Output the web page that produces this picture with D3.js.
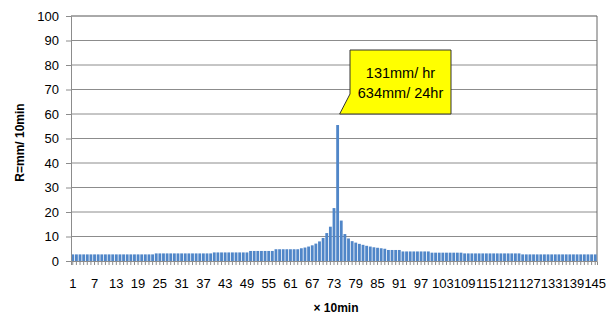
<!DOCTYPE html>
<html>
<head>
<meta charset="utf-8">
<script src="https://cdn.jsdelivr.net/npm/d3@7"></script>
<style>
  body { margin: 0; background: #fff; }
  svg { font-family: "Liberation Sans", Arial, sans-serif; }
</style>
</head>
<body>
<svg width="608" height="318"></svg>
<script>
// x categories: 10-minute steps 1..145
var steps = d3.range(1, 146);

// rainfall per 10 min (mm)
var rain = [
  2.7,2.7,2.7,2.7,2.7,2.7,2.7,2.7,2.7,2.7,2.7,2.7,2.7,2.7,2.7,2.7,2.7,2.7,2.7,2.7,2.7,2.7,2.7,
  3.1,3.1,3.1,3.1,3.1,3.1,3.1,3.1,3.1,3.1,3.1,3.1,3.1,3.1,3.1,3.1,
  3.5,3.5,3.5,3.5,3.5,3.5,3.5,3.5,3.5,3.5,
  4.1,4.1,4.1,4.1,4.1,4.1,4.1,
  4.8,4.8,4.8,4.8,4.8,4.8,4.8,
  5.2,5.5,5.9,6.4,7.1,8.0,9.4,11.4,14.0,21.6,55.5,16.5,11.0,9.2,8.1,7.5,7.0,6.6,6.2,5.9,5.6,5.4,5.2,5.0,
  4.5,4.5,4.5,4.5,
  3.9,3.9,3.9,3.9,3.9,3.9,3.9,3.9,
  3.4,3.4,3.4,3.4,3.4,3.4,3.4,3.4,3.4,
  3.1,3.1,3.1,3.1,3.1,3.1,3.1,3.1,3.1,3.1,3.1,3.1,3.1,3.1,3.1,3.1,
  2.7,2.7,2.7,2.7,2.7,2.7,2.7,2.7,2.7,2.7,2.7,2.7,2.7,2.7,2.7,2.7,2.7,2.7,2.7,2.7,2.7
];

var yTicks = [0, 10, 20, 30, 40, 50, 60, 70, 80, 90, 100];
var xLabelEvery = 6;
var calloutLines = ["131mm/ hr", "634mm/ 24hr"];
var peakStep = 74;

var svg = d3.select("svg");
var pLeft = 71, pRight = 597, pTop = 16, pBottom = 261;

var x = d3.scaleBand().domain(steps).range([pLeft, pRight]).paddingInner(0.22).paddingOuter(0.1);
var y = d3.scaleLinear().domain([0, 100]).range([pBottom, pTop]);

// gridlines
svg.append("g")
  .selectAll("line")
  .data(yTicks.slice(1))
  .enter().append("line")
  .attr("x1", pLeft).attr("x2", pRight)
  .attr("y1", d => y(d)).attr("y2", d => y(d))
  .attr("stroke", d => d === 100 ? "#555" : "#8c8c8c").attr("stroke-width", 1);

// right border
svg.append("line")
  .attr("x1", pRight).attr("x2", pRight).attr("y1", pTop).attr("y2", pBottom)
  .attr("stroke", "#666");

// bars
svg.append("g")
  .selectAll("rect")
  .data(rain)
  .enter().append("rect")
  .attr("x", (d, i) => x(steps[i]))
  .attr("y", d => y(d))
  .attr("width", x.bandwidth())
  .attr("height", d => pBottom - y(d))
  .attr("fill", "#5086c8");

// y axis
var yAxis = svg.append("g")
  .attr("transform", "translate(" + pLeft + ",0)")
  .call(d3.axisLeft(y).tickValues(yTicks).tickSize(5).tickPadding(7));
yAxis.select(".domain").attr("stroke", "#8c8c8c");
yAxis.selectAll(".tick line").attr("stroke", "#8c8c8c");
yAxis.selectAll("text").attr("font-size", 13).attr("fill", "#000")
  .attr("font-family", "Liberation Sans, Arial, sans-serif");

// x axis
var xAxis = svg.append("g")
  .attr("transform", "translate(0," + pBottom + ")")
  .call(d3.axisBottom(x).tickSize(4).tickPadding(14)
    .tickFormat(d => ((d - 1) % xLabelEvery === 0) ? d : ""));
xAxis.select(".domain").attr("stroke", "#8c8c8c");
xAxis.selectAll(".tick line").attr("stroke", "#8c8c8c");
xAxis.selectAll("text").attr("font-size", 13).attr("fill", "#000")
  .attr("font-family", "Liberation Sans, Arial, sans-serif");

// axis titles
svg.append("text")
  .attr("transform", "translate(24," + ((pTop + pBottom) / 2 + 4) + ") rotate(-90)")
  .attr("text-anchor", "middle")
  .attr("font-size", 12).attr("font-weight", "bold")
  .text("R=mm/ 10min");

svg.append("text")
  .attr("x", 336).attr("y", 312)
  .attr("text-anchor", "middle")
  .attr("font-size", 12).attr("font-weight", "bold")
  .text("× 10min");

// callout
var tipX = x(peakStep) + x.bandwidth() / 2 + 2;
var tipY = y(rain[peakStep - 1]) - 11;
var bx = 350, by = 50, bw = 101, bh = 64;
var path = d3.path();
path.moveTo(bx, by);
path.lineTo(bx + bw, by);
path.lineTo(bx + bw, by + bh);
path.lineTo(bx + 4, by + bh);
path.lineTo(tipX, tipY);
path.lineTo(bx, by + bh - 20);
path.closePath();
svg.append("path")
  .attr("d", path.toString())
  .attr("fill", "#ffff00")
  .attr("stroke", "#333").attr("stroke-width", 1);

svg.append("g")
  .selectAll("text")
  .data(calloutLines)
  .enter().append("text")
  .attr("x", bx + bw / 2)
  .attr("y", (d, i) => by + 28 + i * 20)
  .attr("text-anchor", "middle")
  .attr("font-size", 14.5)
  .text(d => d);
</script>
</body>
</html>
